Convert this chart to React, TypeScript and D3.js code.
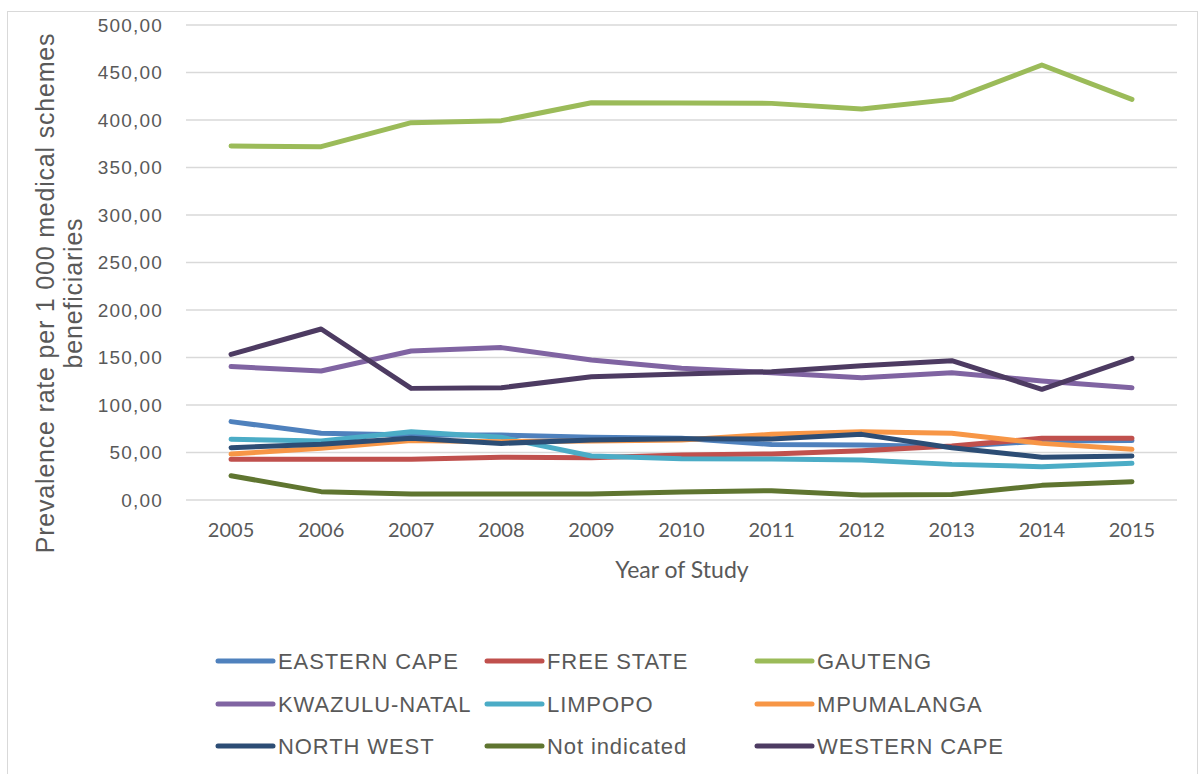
import React from "react";
import * as d3 from "d3";

const years = ["2005","2006","2007","2008","2009","2010","2011","2012","2013","2014","2015"];
const yTicks = [0,50,100,150,200,250,300,350,400,450,500];

const easternCape = [82.5,70.2,68.4,68.4,66.0,64.9,58.5,58.0,56.0,62.1,62.5];
const freeState = [42.8,42.8,42.8,44.9,44.6,47.4,48.4,51.9,56.8,64.9,64.9];
const gauteng = [372.6,371.9,397.2,399.3,418.2,417.9,417.5,411.6,421.7,457.9,421.7];
const kwazuluNatal = [140.4,135.8,156.8,160.4,147.4,138.6,134.0,128.8,134.0,125.3,118.2];
const limpopo = [63.9,62.1,71.9,66.0,46.3,43.5,43.2,42.1,37.5,35.1,38.6];
const mpumalanga = [48.4,54.4,62.5,61.4,62.1,63.2,69.1,71.9,70.2,59.6,53.3];
const northWest = [55.1,58.6,64.9,59.6,63.2,64.6,64.2,69.1,55.1,44.9,46.3];
const notIndicated = [25.6,8.8,6.3,6.3,6.3,8.4,9.8,5.3,5.9,15.4,19.3];
const westernCape = [153.3,180.0,117.5,118.2,129.8,132.6,135.1,141.4,146.7,116.5,149.1];

const seriesNames = ["EASTERN CAPE","FREE STATE","GAUTENG","KWAZULU-NATAL","LIMPOPO","MPUMALANGA","NORTH WEST","Not indicated","WESTERN CAPE"];
const seriesColors = ["#4F81BD","#C0504D","#9BBB59","#8064A2","#4BACC6","#F79646","#2C4D75","#5F7530","#4D3B62"];
const seriesValues = [easternCape,freeState,gauteng,kwazuluNatal,limpopo,mpumalanga,northWest,notIndicated,westernCape];

export default function App() {
  const W = 1204, H = 774;
  const x = d3.scaleBand().domain(years).range([186, 1177]);
  const y = d3.scaleLinear().domain([0, 500]).range([500, 25]);
  const line = d3.line<number>()
    .x((_, i) => (x(years[i]) as number) + x.bandwidth() / 2)
    .y((v) => y(v));
  const fmt = (v: number) => v.toFixed(2).replace(".", ",");
  const legendCols = [218, 487, 757];
  const legendRows = [661, 704, 746];

  return (
    <svg width={W} height={H} style={{ position: "absolute", left: 0, top: 0, background: "#fff" }}>
      <rect x={7.5} y={11.5} width={1190} height={800} fill="#fff" stroke="#D9D9D9" strokeWidth={1} />
      {yTicks.map((t) => (
        <g key={t}>
          <line x1={186} x2={1177} y1={y(t)} y2={y(t)} stroke="#D9D9D9" strokeWidth={1.5} />
          <text x={163} y={y(t)} dy="0.35em" textAnchor="end" fontFamily="Liberation Sans, Arial" fontSize={19} letterSpacing={1.2} fill="#595959">{fmt(t)}</text>
        </g>
      ))}
      {years.map((yr) => (
        <text key={yr} x={(x(yr) as number) + x.bandwidth() / 2} y={530} dy="0.35em" textAnchor="middle" fontFamily="Lato" fontSize={20} fill="#595959">{yr}</text>
      ))}
      <text x={682} y={570} dy="0.35em" textAnchor="middle" fontFamily="Lato" fontSize={23} fill="#595959">Year of Study</text>
      <g transform="translate(45,293) rotate(-90)">
        <text x={0} y={0} dy="0.35em" textAnchor="middle" fontFamily="Liberation Sans, Arial" fontSize={25} letterSpacing={0.8} fill="#595959">Prevalence rate per 1 000 medical schemes</text>
      </g>
      <g transform="translate(73,293) rotate(-90)">
        <text x={0} y={0} dy="0.35em" textAnchor="middle" fontFamily="Liberation Sans, Arial" fontSize={25} letterSpacing={0.8} fill="#595959">beneficiaries</text>
      </g>
      {seriesValues.map((vals, i) => (
        <path key={seriesNames[i]} d={line(vals) as string} fill="none" stroke={seriesColors[i]} strokeWidth={5} strokeLinecap="round" strokeLinejoin="round" />
      ))}
      {seriesNames.map((name, i) => {
        const cx = legendCols[i % 3];
        const cy = legendRows[Math.floor(i / 3)];
        return (
          <g key={name}>
            <line x1={cx} x2={cx + 55} y1={cy} y2={cy} stroke={seriesColors[i]} strokeWidth={5} strokeLinecap="round" />
            <text x={cx + 60} y={cy} dy="0.35em" fontFamily="Liberation Sans, Arial" fontSize={22} letterSpacing={0.9} fill="#595959">{name}</text>
          </g>
        );
      })}
    </svg>
  );
}
